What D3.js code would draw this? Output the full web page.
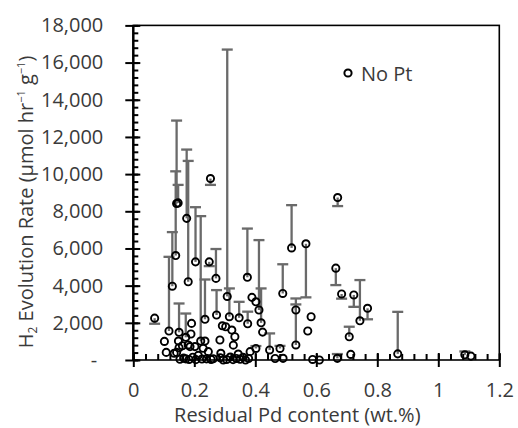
<!DOCTYPE html>
<html lang="en">
<head>
  <meta charset="UTF-8">
  <title>H2 Evolution Rate vs Residual Pd</title>
  <script src="https://d3js.org/d3.v7.min.js"></script>
  <style>
    body { margin: 0; background: #fff; }
    text { font-family: "Open Sans", Lato, sans-serif; fill: #3a3a3a; }
  </style>
</head>
<body>
<div id="graph-container"></div>

<script>
// Residual Pd content (wt.%)
const pdContent = [
  0.070, 0.102, 0.108, 0.117, 0.128, 0.139, 0.142, 0.147, 0.150, 0.142,
  0.150, 0.153, 0.161, 0.172, 0.175, 0.180, 0.172, 0.186, 0.191, 0.189,
  0.204, 0.221, 0.235, 0.235, 0.249, 0.253, 0.271, 0.273, 0.284, 0.292,
  0.303, 0.308, 0.315, 0.328, 0.347, 0.374, 0.375, 0.389, 0.402, 0.412,
  0.419, 0.424, 0.402, 0.383, 0.344, 0.447, 0.481, 0.465, 0.491, 0.490,
  0.519, 0.533, 0.533, 0.566, 0.572, 0.583, 0.588, 0.610, 0.664, 0.670,
  0.669, 0.683, 0.708, 0.713, 0.723, 0.743, 0.768, 0.867, 1.087, 1.107,
  0.165, 0.183, 0.195, 0.205, 0.213, 0.225, 0.240, 0.255, 0.262, 0.285,
  0.295, 0.306, 0.318, 0.327, 0.338, 0.350, 0.360, 0.368, 0.378, 0.148,
  0.134, 0.202, 0.229, 0.246, 0.287, 0.323, 0.333, 0.180
];

// H2 evolution rate (umol hr-1 g-1)
const h2Rate = [
  2250, 1000, 410, 1560, 3970, 5620, 8420, 8450, 1490, 410,
  660, 40, 770, 1220, 7620, 4210, 60, 720, 1970, 1400,
  5280, 1020, 1020, 2190, 5280, 9760, 4390, 2420, 1075, 1840,
  1790, 3420, 2330, 800, 2270, 4450, 1950, 3370, 3130, 2690,
  2000, 1500, 620, 450, 320, 540, 620, 80, 90, 3580,
  6030, 2690, 810, 6250, 1560, 2330, 30, 0, 4940, 8740,
  90, 3550, 1250, 300, 3500, 2110, 2780, 330, 280, 210,
  100, 30, 150, 20, 250, 50, 60, 30, 70, 120,
  0, 30, 160, 20, 80, 40, 150, 0, 80, 1020,
  360, 720, 630, 450, 360, 1610, 1250, 810
];

// end value of each one-sided error bar (null = no bar)
const errEnd = [
  1950, null, null, 5550, 6880, 10150, 12880, 9420, 3040, null,
  null, null, null, 2500, 11320, 10710, null, null, null, null,
  8220, 7740, null, 4330, 5050, 9420, 5970, 3760, null, null,
  null, 16700, 3850, null, 3130, 7070, 2600, null, null, 6450,
  3850, null, 750, null, null, 1430, 760, null, null, 5150,
  8330, 3310, 2990, 3370, null, null, null, null, 4030, 8280,
  320, 3300, 1790, null, 2860, 4300, 2190, 2590, 460, null,
  null, null, null, null, null, null, null, null, null, null,
  null, null, null, null, null, null, null, null, null, null,
  null, null, null, null, null, null, null, null
];

const xTicks = [0, 0.2, 0.4, 0.6, 0.8, 1, 1.2];
const yTicks = [0, 2000, 4000, 6000, 8000, 10000, 12000, 14000, 16000, 18000];
const legendLabel = "No Pt";

const data = pdContent.map((x, i) => ({ x: x, y: h2Rate[i], e: errEnd[i] }));

const width = 518, height = 428;
const mLeft = 133.3, mRight = 499.3, mTop = 25.4, mBottom = 360;

const svg = d3.select("#graph-container")
  .append("svg")
  .attr("width", width)
  .attr("height", height);

const x = d3.scaleLinear().domain([0, 1.2]).range([mLeft, mRight]);
const y = d3.scaleLinear().domain([0, 18000]).range([mBottom, mTop]);

// error bars (grey, behind markers)
const bars = svg.append("g")
  .attr("stroke", "#6a6a6a")
  .attr("stroke-width", 2.3);

const withErr = data.filter(d => d.e !== null);

bars.selectAll("line.v")
  .data(withErr)
  .enter()
  .append("line")
  .attr("class", "v")
  .attr("x1", d => x(d.x))
  .attr("x2", d => x(d.x))
  .attr("y1", d => y(d.y))
  .attr("y2", d => y(d.e));

bars.selectAll("line.c")
  .data(withErr)
  .enter()
  .append("line")
  .attr("class", "c")
  .attr("x1", d => x(d.x) - 5.5)
  .attr("x2", d => x(d.x) + 5.5)
  .attr("y1", d => y(d.e))
  .attr("y2", d => y(d.e));

// plot frame
svg.append("rect")
  .attr("x", mLeft)
  .attr("y", mTop)
  .attr("width", mRight - mLeft)
  .attr("height", mBottom - mTop)
  .attr("fill", "none")
  .attr("stroke", "#000")
  .attr("stroke-width", 1.6);

// y axis ticks: major cross the axis, minor inside
const yMinor = d3.range(0, 18001, 400);
const yMajorOut = svg.append("g")
  .attr("transform", `translate(${mLeft},0)`)
  .call(d3.axisLeft(y).tickValues(yTicks).tickSize(8).tickFormat(""));
const yMajorIn = svg.append("g")
  .attr("transform", `translate(${mLeft},0)`)
  .call(d3.axisRight(y).tickValues(yTicks).tickSize(7).tickFormat(""));
const yMinorIn = svg.append("g")
  .attr("transform", `translate(${mLeft},0)`)
  .call(d3.axisRight(y).tickValues(yMinor).tickSize(5).tickFormat(""));

// x axis ticks
const xMinor = d3.range(0, 1.2001, 0.04);
const xMajorOut = svg.append("g")
  .attr("transform", `translate(0,${mBottom})`)
  .call(d3.axisBottom(x).tickValues(xTicks).tickSize(7).tickFormat(""));
const xMajorIn = svg.append("g")
  .attr("transform", `translate(0,${mBottom})`)
  .call(d3.axisTop(x).tickValues(xTicks).tickSize(7).tickFormat(""));
const xMinorIn = svg.append("g")
  .attr("transform", `translate(0,${mBottom})`)
  .call(d3.axisTop(x).tickValues(xMinor).tickSize(6).tickFormat(""));

[yMajorOut, yMajorIn, yMinorIn, xMajorOut, xMajorIn, xMinorIn].forEach(g => {
  g.select(".domain").remove();
  g.selectAll("line").attr("stroke", "#000").attr("stroke-width", 2);
});

// thicker y axis line
svg.append("line")
  .attr("x1", mLeft).attr("x2", mLeft)
  .attr("y1", mTop).attr("y2", mBottom)
  .attr("stroke", "#000").attr("stroke-width", 2.4);

// tick labels
const yLabels = svg.append("g")
  .attr("transform", `translate(${mLeft},0)`)
  .call(d3.axisLeft(y).tickValues(yTicks).tickSize(0).tickPadding(30)
    .tickFormat(d => d === 0 ? "-" : d3.format(",")(d)));
yLabels.select(".domain").remove();
yLabels.selectAll("text")
  .style("font-size", "20px")
  .style("font-family", "'Open Sans', sans-serif")
  .attr("fill", "#3a3a3a");
yLabels.selectAll("text").filter(d => d === 0).attr("x", -36);

const xLabels = svg.append("g")
  .attr("transform", `translate(0,${mBottom})`)
  .call(d3.axisBottom(x).tickValues(xTicks).tickSize(0).tickPadding(23)
    .tickFormat(d => String(+d.toFixed(1))));
xLabels.select(".domain").remove();
xLabels.selectAll("text")
  .style("font-size", "20px")
  .style("font-family", "'Open Sans', sans-serif")
  .attr("fill", "#3a3a3a");

// markers (hollow circles)
svg.append("g")
  .selectAll("circle")
  .data(data)
  .enter()
  .append("circle")
  .attr("cx", d => x(d.x))
  .attr("cy", d => y(d.y))
  .attr("r", 3.6)
  .attr("fill", "none")
  .attr("stroke", "#000")
  .attr("stroke-width", 1.9);

// legend
svg.append("circle")
  .attr("cx", 348)
  .attr("cy", 73)
  .attr("r", 3.6)
  .attr("fill", "none")
  .attr("stroke", "#000")
  .attr("stroke-width", 2);
svg.append("text")
  .attr("x", 361)
  .attr("y", 81)
  .style("font-size", "20px")
  .text(legendLabel);

// axis titles
svg.append("text")
  .attr("x", (mLeft + mRight) / 2 - 19)
  .attr("y", 422)
  .attr("text-anchor", "middle")
  .style("font-size", "20px")
  .text("Residual Pd content (wt.%)");

const yTitle = svg.append("text")
  .attr("transform", "translate(33,202) rotate(-90)")
  .attr("text-anchor", "middle")
  .style("font-size", "20px");
yTitle.append("tspan").text("H");
yTitle.append("tspan").attr("dy", 4).style("font-size", "12px").text("2");
yTitle.append("tspan").attr("dy", -4).text(" Evolution Rate (µmol hr");
yTitle.append("tspan").attr("dy", -8).style("font-size", "11px").text("−1");
yTitle.append("tspan").attr("dy", 8).text(" g");
yTitle.append("tspan").attr("dy", -8).style("font-size", "11px").text("−1");
yTitle.append("tspan").attr("dy", 8).text(")");
</script>

</body>
</html>
